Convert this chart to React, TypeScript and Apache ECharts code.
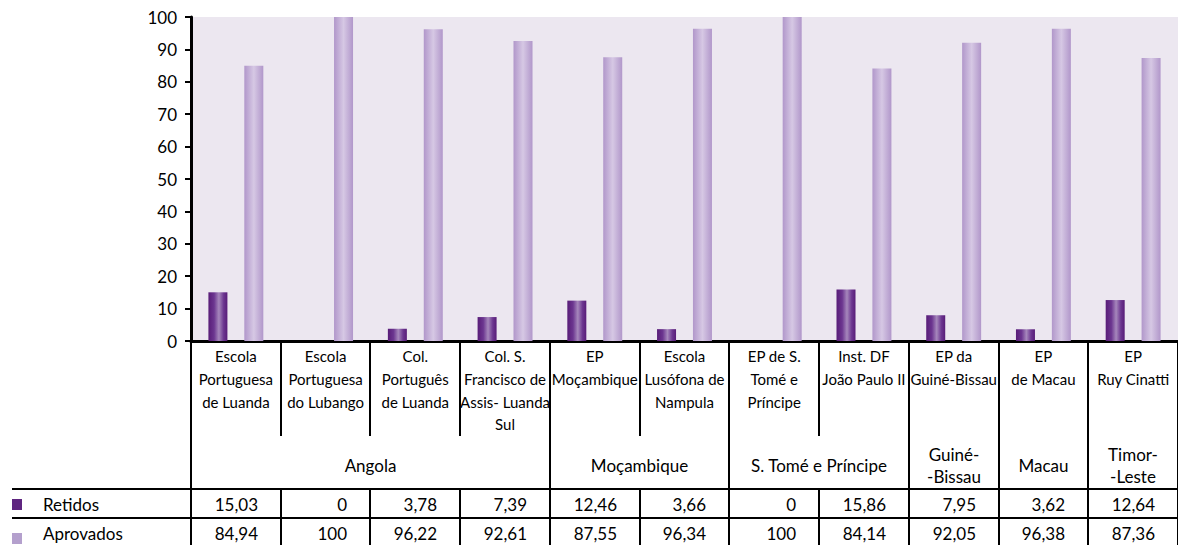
import React, { useEffect, useRef } from "react";
import * as echarts from "echarts";

const categories = [
  "Escola\nPortuguesa\nde Luanda",
  "Escola\nPortuguesa\ndo Lubango",
  "Col.\nPortuguês\nde Luanda",
  "Col. S.\nFrancisco de\nAssis- Luanda\nSul",
  "EP\nMoçambique",
  "Escola\nLusófona de\nNampula",
  "EP de S.\nTomé e\nPríncipe",
  "Inst. DF\nJoão Paulo II",
  "EP da\nGuiné-Bissau",
  "EP\nde Macau",
  "EP\nRuy Cinatti",
];
const retidos = [15.03, 0, 3.78, 7.39, 12.46, 3.66, 0, 15.86, 7.95, 3.62, 12.64];
const aprovados = [84.94, 100, 96.22, 92.61, 87.55, 96.34, 100, 84.14, 92.05, 96.38, 87.36];
const groups = ["Angola", "Moçambique", "S. Tomé e Príncipe", "Guiné-\n-Bissau", "Macau", "Timor-\n-Leste"];
const groupSpans = [4, 2, 2, 1, 1, 1];
const seriesNames = ["Retidos", "Aprovados"];
const yMin = 0;
const yMax = 100;
const yInterval = 10;

const FONT = "Lato";
const darkSolid = "#5f2580";
const lightSolid = "#b4a0cd";

const fmt = (v: number) => String(v).replace(".", ",");

export default function App() {
  const ref = useRef<HTMLDivElement>(null);
  useEffect(() => {
    const chart = echarts.init(ref.current!, null, { renderer: "svg" });
    const darkGrad = new echarts.graphic.LinearGradient(0, 0, 1, 0, [
      { offset: 0, color: "#581c78" },
      { offset: 0.3, color: "#6c3690" },
      { offset: 0.55, color: "#a687bc" },
      { offset: 0.8, color: "#6c3690" },
      { offset: 1, color: "#581c78" },
    ]);
    const lightGrad = new echarts.graphic.LinearGradient(0, 0, 1, 0, [
      { offset: 0, color: "#b197ca" },
      { offset: 0.5, color: "#d6c8e4" },
      { offset: 1, color: "#b197ca" },
    ]);
    chart.setOption({
      animation: false,
      grid: {
        left: 191,
        top: 17,
        width: 992,
        height: 324,
        show: true,
        backgroundColor: "#ece7f0",
        borderWidth: 0,
      },
      xAxis: {
        type: "category",
        data: categories,
        axisLine: { show: true, lineStyle: { color: "#000", width: 3 } },
        axisTick: { show: false },
        axisLabel: {
          interval: 0,
          margin: 4,
          color: "#000",
          fontFamily: FONT,
          fontSize: 15,
          lineHeight: 22.7,
        },
      },
      yAxis: {
        type: "value",
        min: yMin,
        max: yMax,
        interval: yInterval,
        splitLine: { show: false },
        axisLine: { show: true, lineStyle: { color: "#000", width: 3 } },
        axisTick: { show: true, length: 6, lineStyle: { color: "#000", width: 2 } },
        axisLabel: { margin: 14, color: "#000", fontFamily: FONT, fontSize: 17 },
      },
      series: [
        {
          name: seriesNames[0],
          type: "bar",
          data: retidos,
          barWidth: 19,
          barGap: "89%",
          itemStyle: { color: darkGrad },
        },
        {
          name: seriesNames[1],
          type: "bar",
          data: aprovados,
          barWidth: 19,
          barGap: "89%",
          itemStyle: { color: lightGrad },
        },
      ],
    });

    const centers = categories.map((_, i) => chart.convertToPixel({ xAxisIndex: 0 }, i) as number);
    const half = (centers[1] - centers[0]) / 2;
    const bounds = [centers[0] - half, ...centers.map((c) => c + half)].map((b) => Math.round(b));
    const y0 = Math.round(chart.convertToPixel({ yAxisIndex: 0 }, 0) as number);
    const shortEnd = 436;
    const row1 = 489;
    const row2 = 518;
    const bottom = 545;
    const row1Mid = 504;
    const row2Mid = 533;
    const groupMid = 465;

    const groupBounds = new Set<number>();
    let acc = 0;
    groupBounds.add(0);
    groupSpans.forEach((s) => {
      acc += s;
      groupBounds.add(acc);
    });

    const lineStyle = { stroke: "#000", lineWidth: 2 };
    const g: any[] = [];
    bounds.forEach((x, k) => {
      if (groupBounds.has(k)) {
        g.push({ type: "line", shape: { x1: x, y1: y0, x2: x, y2: bottom }, style: lineStyle, silent: true });
      } else {
        g.push({ type: "line", shape: { x1: x, y1: y0, x2: x, y2: shortEnd }, style: lineStyle, silent: true });
        g.push({ type: "line", shape: { x1: x, y1: row1, x2: x, y2: bottom }, style: lineStyle, silent: true });
      }
    });
    [row1, row2].forEach((y) => {
      g.push({ type: "line", shape: { x1: 12, y1: y, x2: 1178, y2: y }, style: lineStyle, silent: true });
    });
    acc = 0;
    groups.forEach((name, i) => {
      const xL = bounds[acc];
      acc += groupSpans[i];
      const xR = bounds[acc];
      g.push({
        type: "text",
        x: (xL + xR) / 2,
        y: groupMid,
        style: {
          text: name,
          fill: "#000",
          font: `17px ${FONT}`,
          align: "center",
          verticalAlign: "middle",
          lineHeight: 22,
        },
        silent: true,
      });
    });
    [retidos, aprovados].forEach((arr, r) => {
      const ym = r === 0 ? row1Mid : row2Mid;
      arr.forEach((v, i) => {
        g.push({
          type: "text",
          x: bounds[i + 1] - 23,
          y: ym,
          style: {
            text: fmt(v),
            fill: "#000",
            font: `17px ${FONT}`,
            align: "right",
            verticalAlign: "middle",
          },
          silent: true,
        });
      });
      g.push({
        type: "rect",
        shape: { x: 12, y: r === 0 ? 499 : 533, width: 10, height: 11 },
        style: { fill: r === 0 ? darkSolid : lightSolid },
        silent: true,
      });
      g.push({
        type: "text",
        x: 43,
        y: ym,
        style: {
          text: seriesNames[r],
          fill: "#000",
          font: `17px ${FONT}`,
          align: "left",
          verticalAlign: "middle",
        },
        silent: true,
      });
    });
    chart.setOption({ graphic: g });
    return () => chart.dispose();
  }, []);
  return (
    <div
      ref={ref}
      style={{ position: "fixed", left: 0, top: 0, width: 1178, height: 545, background: "#fff" }}
    />
  );
}
